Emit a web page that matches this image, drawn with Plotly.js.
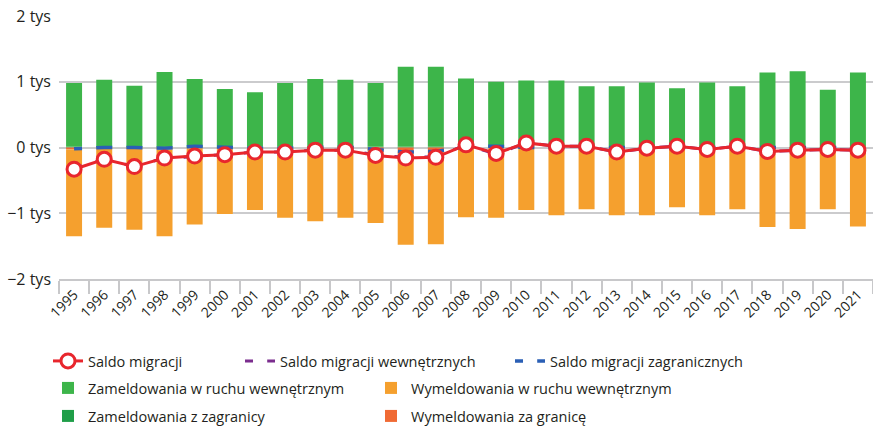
<!DOCTYPE html>
<html>
<head>
<meta charset="utf-8">
<script src="https://cdn.plot.ly/plotly-3.0.1.min.js"></script>
<style>html,body{margin:0;padding:0;background:#fff;}#chart{width:873px;height:427px;}</style>
</head>
<body>
<div id="chart"></div>
<script>
const years = ['1995','1996','1997','1998','1999','2000','2001','2002','2003','2004','2005','2006','2007','2008','2009','2010','2011','2012','2013','2014','2015','2016','2017','2018','2019','2020','2021'];

// values in thousands
const zamWewn = [0.97,1.01,0.92,1.13,1.01,0.87,0.83,0.97,1.03,1.01,0.97,1.22,1.22,1.03,0.97,1.01,1.01,0.92,0.92,0.98,0.89,0.98,0.92,1.13,1.15,0.87,1.13];
const wymWewn = [-1.32,-1.20,-1.23,-1.32,-1.16,-0.99,-0.93,-1.05,-1.11,-1.06,-1.11,-1.40,-1.40,-1.05,-1.06,-0.94,-1.02,-0.93,-1.02,-1.02,-0.90,-1.02,-0.93,-1.20,-1.23,-0.93,-1.19];
const zamZagr = [0.01,0.02,0.02,0.02,0.03,0.02,0.01,0.01,0.01,0.02,0.01,0.01,0.01,0.02,0.03,0.01,0.01,0.01,0.01,0.01,0.01,0.01,0.01,0.01,0.01,0.01,0.01];
const wymZagr = [-0.03,-0.02,-0.02,-0.03,-0.01,-0.02,-0.02,-0.02,-0.01,-0.01,-0.04,-0.08,-0.07,-0.01,-0.01,-0.01,-0.01,-0.01,-0.01,-0.01,-0.01,-0.01,-0.01,-0.01,-0.01,-0.01,-0.01];
const saldo = [-0.33,-0.18,-0.29,-0.16,-0.13,-0.11,-0.07,-0.07,-0.04,-0.04,-0.12,-0.16,-0.15,0.04,-0.09,0.07,0.02,0.02,-0.07,-0.01,0.02,-0.03,0.02,-0.06,-0.04,-0.03,-0.04];
const saldoWewn = [-0.31,-0.18,-0.29,-0.16,-0.14,-0.11,-0.07,-0.07,-0.04,-0.04,-0.11,-0.15,-0.14,0.04,-0.10,0.07,0.02,0.02,-0.07,-0.01,0.02,-0.03,0.02,-0.06,-0.04,-0.03,-0.04];
const saldoZagr = [-0.02,0.00,0.00,-0.01,0.02,0.00,-0.01,-0.01,0.00,0.01,-0.03,-0.07,-0.06,0.01,0.02,0.00,0.00,0.00,0.00,0.00,0.00,0.00,0.00,0.00,0.00,0.00,0.00];

const yTickVals = [-2,-1,0,1,2];
const yTickText = ['−2 tys','−1 tys','0 tys','1 tys','2 tys'];

const names = {
  saldo: 'Saldo migracji',
  saldoWewn: 'Saldo migracji wewnętrznych',
  saldoZagr: 'Saldo migracji zagranicznych',
  zamWewn: 'Zameldowania w ruchu wewnętrznym',
  wymWewn: 'Wymeldowania w ruchu wewnętrznym',
  zamZagr: 'Zameldowania z zagranicy',
  wymZagr: 'Wymeldowania za granicę'
};

const dashPattern = '8px,14.2px,8px,0px';

const traces = [
  {type:'bar', x:years, y:zamZagr, name:names.zamZagr, marker:{color:'#1f9e48'}, legend:'legend6'},
  {type:'bar', x:years, y:wymZagr, name:names.wymZagr, marker:{color:'#f06a34'}, legend:'legend7'},
  {type:'bar', x:years, y:zamWewn, name:names.zamWewn, marker:{color:'#3db54a'}, legend:'legend4'},
  {type:'bar', x:years, y:wymWewn, name:names.wymWewn, marker:{color:'#f5a02e'}, legend:'legend5'},
  {type:'scatter', mode:'lines', x:years, y:saldoWewn, name:names.saldoWewn, line:{color:'#7b2d8e', width:3, dash:dashPattern}, legend:'legend2'},
  {type:'scatter', mode:'lines', x:years, y:saldoZagr, name:names.saldoZagr, line:{color:'#2a5fb5', width:3.5, dash:dashPattern}, legend:'legend3'},
  {type:'scatter', mode:'lines+markers', x:years, y:saldo, name:names.saldo, line:{color:'#e8262d', width:3}, marker:{symbol:'circle', size:14, color:'#ffffff', line:{color:'#e8262d', width:3}}, legend:'legend'}
];

const legFont = {family:'Open Sans, sans-serif', size:14.5, color:'#231f20'};
function leg(xpix, ypix){
  return {orientation:'h', xref:'container', yref:'container', x:xpix/873, y:1-ypix/427, xanchor:'left', yanchor:'middle', bgcolor:'rgba(0,0,0,0)', font:legFont, itemwidth:30, tracegroupgap:0};
}

const layout = {
  width:873, height:427,
  margin:{l:59, r:0, t:16, b:148},
  paper_bgcolor:'#ffffff', plot_bgcolor:'#ffffff',
  barmode:'relative', bargap:0.47,
  showlegend:true,
  legend: leg(48, 361),
  legend2: leg(240, 361),
  legend3: leg(510, 361),
  legend4: leg(48, 388),
  legend5: leg(371, 388),
  legend6: leg(48, 416),
  legend7: leg(371, 416),
  xaxis:{
    type:'category', range:[-0.5, years.length - 0.5], showgrid:false, showline:true, linecolor:'#c8c8ca', linewidth:2,
    ticks:'outside', tickson:'boundaries', ticklen:13, tickcolor:'#c8c8ca', tickwidth:2,
    tickangle:-45, tickfont:{family:'Open Sans, sans-serif', size:14, color:'#231f20'},
    automargin:false, fixedrange:true
  },
  yaxis:{
    range:[-2,2], tickvals:yTickVals, ticktext:yTickText, showgrid:true, gridcolor:'#cbcbcd', gridwidth:2,
    zeroline:false, showline:false, ticks:'', ticklabelstandoff:7, tickfont:{family:'Open Sans, sans-serif', size:16, color:'#231f20'},
    automargin:false, fixedrange:true
  }
};

Plotly.newPlot('chart', traces, layout, {displayModeBar:false, staticPlot:true});
</script>
</body>
</html>
